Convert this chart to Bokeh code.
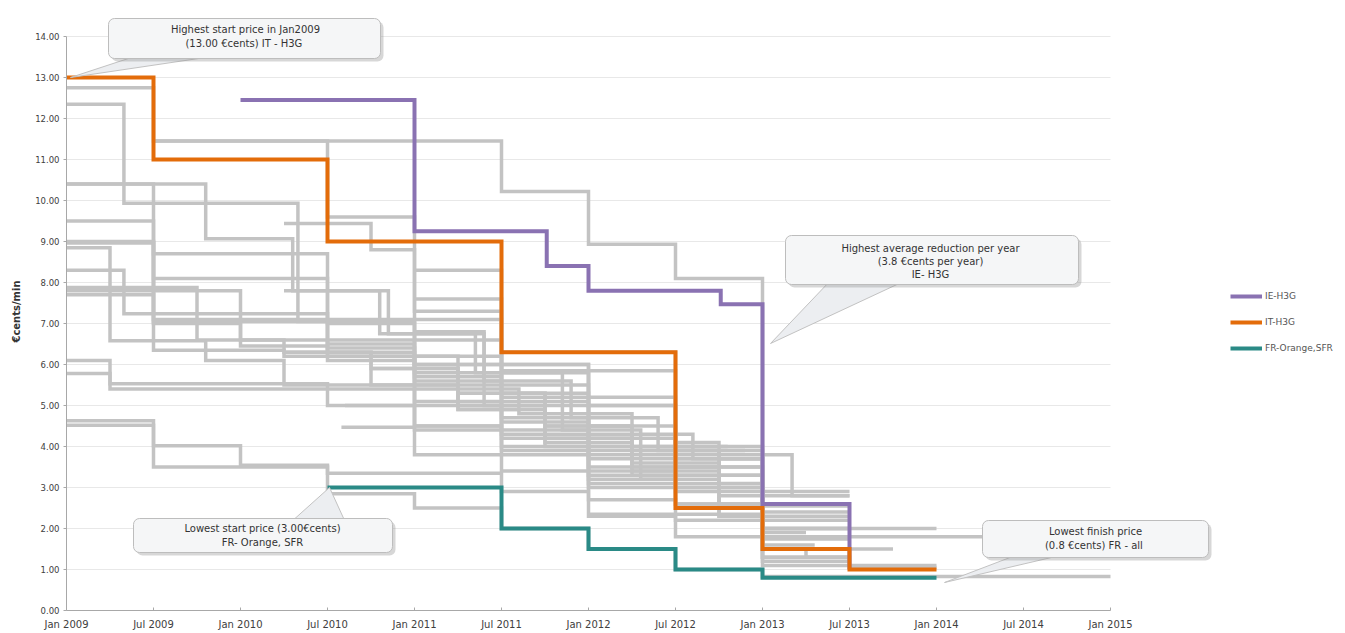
from bokeh.plotting import figure
from bokeh.models import (FixedTicker, NumeralTickFormatter, BoxAnnotation, Label,
                          Legend, LegendItem)
from bokeh.embed import file_html
from bokeh.resources import INLINE

# ---------------- data ----------------
x_ticks = [2009.0 + 0.5 * i for i in range(13)]
x_tick_labels = ["Jan 2009", "Jul 2009", "Jan 2010", "Jul 2010", "Jan 2011", "Jul 2011",
                 "Jan 2012", "Jul 2012", "Jan 2013", "Jul 2013", "Jan 2014", "Jul 2014",
                 "Jan 2015"]
y_ticks = list(range(0, 15))

ie_dates = [2010.0, 2011.0, 2011.76, 2012.0, 2012.76, 2013.0, 2013.5]
ie_values = [12.45, 9.25, 8.4, 7.8, 7.47, 2.6, 1.0]
ie_end = 2013.5

it_dates = [2009.0, 2009.5, 2010.5, 2011.5, 2012.5, 2013.0, 2013.5]
it_values = [13.0, 11.0, 9.0, 6.3, 2.5, 1.5, 1.0]
it_end = 2014.0

fr_dates = [2010.5, 2011.5, 2012.0, 2012.5, 2013.0]
fr_values = [3.0, 2.0, 1.5, 1.0, 0.8]
fr_end = 2014.0

grey_dates = [
    [2009.0, 2009.5, 2011.5, 2012.0, 2012.5, 2013.0],
    [2009.0, 2009.33, 2010.33, 2011.0, 2011.5, 2012.0, 2013.0],
    [2009.0, 2009.5, 2010.5, 2011.0, 2011.5, 2012.0, 2012.5, 2013.0],
    [2009.0, 2009.8, 2010.3, 2010.85, 2011.4, 2012.0, 2012.75, 2013.0],
    [2009.0, 2009.5, 2010.25, 2011.0, 2011.5, 2012.0, 2013.0],
    [2009.0, 2009.5, 2010.5, 2011.0, 2011.6, 2012.25, 2012.75, 2013.0],
    [2009.0, 2009.25, 2009.8, 2010.25, 2011.0, 2011.5, 2012.0],
    [2009.0, 2009.33, 2010.5, 2011.0, 2011.5, 2012.0, 2012.5, 2013.0],
    [2009.0, 2009.75, 2010.25, 2010.75, 2011.25, 2011.75, 2012.25],
    [2009.0, 2009.5, 2010.5, 2011.0, 2011.5, 2012.0, 2012.5, 2013.0],
    [2009.0, 2009.25, 2010.5, 2011.0, 2011.5, 2012.0, 2012.5, 2013.0],
    [2009.0, 2009.25, 2011.0, 2011.5, 2012.0],
    [2009.0, 2009.5, 2010.0, 2010.5, 2011.0, 2011.5, 2012.0, 2012.5, 2013.0],
    [2009.0, 2009.5, 2010.5, 2011.5, 2012.0, 2012.5, 2013.0],
    [2010.25, 2010.75, 2011.0, 2011.5, 2012.0, 2012.5, 2013.0],
    [2009.5, 2010.5, 2011.0, 2011.5, 2012.0, 2012.5, 2013.0],
    [2010.25, 2010.8, 2011.35, 2011.85, 2012.3, 2012.75, 2013.0],
    [2010.58, 2011.0, 2011.5, 2012.0, 2012.5, 2013.0],
    [2011.0, 2011.5, 2012.0, 2012.5, 2012.75],
    [2011.0, 2011.4, 2011.9, 2012.4],
    [2011.0, 2011.5, 2012.0, 2012.5, 2013.0],
    [2010.5, 2011.0, 2011.5, 2012.0, 2012.5, 2013.0],
    [2010.75, 2011.25, 2011.75, 2012.25, 2012.75],
    [2011.25, 2011.75, 2012.25, 2012.75, 2013.0],
    [2009.0, 2010.0, 2010.5, 2011.25, 2011.75, 2012.25, 2013.0],
    [2009.0, 2009.5, 2010.5, 2011.0, 2011.5, 2012.5, 2012.6],
    [2011.0, 2011.5, 2012.5, 2013.0],
    [2012.5, 2013.0, 2013.25],
    [2012.0, 2013.0, 2013.5],
    [2009.0, 2009.5, 2010.0, 2010.5, 2011.0, 2011.5, 2012.0, 2013.0],
    [2010.25, 2010.75, 2011.25, 2011.75, 2012.25],
    [2010.6, 2011.0, 2011.5, 2012.0, 2013.17],
]
grey_values = [
    [12.75, 11.45, 10.22, 8.93, 8.1, 2.8],
    [12.35, 9.93, 7.05, 5.6, 4.4, 3.3, 2.0],
    [10.4, 8.7, 7.0, 6.0, 5.3, 4.0, 2.6, 1.8],
    [10.4, 9.07, 7.8, 6.75, 5.0, 3.5, 2.3, 1.75],
    [9.5, 6.35, 6.2, 5.1, 4.3, 3.0, 1.3],
    [8.97, 7.1, 6.5, 5.4, 4.8, 3.6, 2.6, 1.6],
    [8.85, 6.58, 6.1, 5.5, 5.0, 4.0, 3.2],
    [8.3, 7.24, 6.4, 5.8, 4.6, 3.7, 2.9, 2.0],
    [7.88, 6.6, 6.3, 5.5, 4.9, 4.1, 3.3],
    [7.7, 7.05, 6.3, 5.7, 5.2, 4.3, 3.1, 2.4],
    [6.1, 5.53, 5.0, 4.4, 3.9, 3.1, 2.6, 1.8],
    [5.78, 5.4, 4.5, 3.8, 3.4],
    [4.63, 4.02, 3.54, 2.85, 2.5, 2.0, 1.5, 1.0, 0.83],
    [4.52, 3.5, 3.35, 2.9, 2.3, 1.8, 1.1],
    [9.44, 8.8, 7.1, 6.0, 5.0, 3.7, 2.9],
    [11.45, 9.6, 7.3, 6.0, 5.0, 4.0, 2.6],
    [7.8, 6.75, 5.8, 4.4, 3.2, 2.3, 1.5],
    [4.47, 3.8, 3.4, 2.7, 2.2, 1.75],
    [7.6, 5.8, 5.2, 4.1, 3.3],
    [6.8, 5.6, 4.7, 3.9],
    [6.2, 5.1, 4.5, 3.5, 2.3],
    [6.6, 6.0, 5.5, 4.2, 3.0, 2.0],
    [5.9, 5.0, 4.5, 3.9, 2.8],
    [5.3, 4.0, 3.4, 2.5, 1.9],
    [7.8, 6.45, 6.2, 4.9, 4.2, 3.5, 1.2],
    [8.97, 8.1, 7.1, 6.6, 5.85, 4.3, 3.7],
    [8.3, 6.3, 3.7, 2.55],
    [2.5, 1.5, 1.3],
    [2.35, 1.3, 1.05],
    [9.0, 7.0, 6.6, 6.1, 5.5, 4.7, 3.9, 2.2],
    [6.3, 5.9, 5.3, 4.5, 4.0],
    [5.0, 4.5, 4.2, 3.8, 2.8],
]
grey_ends = [2013.5, 2014.0, 2015.0, 2013.5, 2013.5, 2013.3, 2012.5, 2013.5,
             2012.75, 2013.5, 2013.5, 2012.5, 2015.0, 2014.0, 2013.5, 2013.5,
             2013.75, 2013.5, 2013.0, 2012.9, 2013.5, 2013.5, 2013.0, 2013.25,
             2013.5, 2013.0, 2013.5, 2013.5, 2014.0, 2013.5, 2012.8, 2013.5]

callout_texts = [
    "Highest start price in Jan2009\n(13.00 €cents)  IT - H3G",
    "Highest average reduction per year\n(3.8 €cents per year)\nIE- H3G",
    "Lowest start price (3.00€cents)\nFR- Orange, SFR",
    "Lowest finish price\n(0.8 €cents)  FR - all",
]

# ---------------- helpers ----------------
def expand(ts, vs, end):
    xs, ys = [], []
    for i, (t, v) in enumerate(zip(ts, vs)):
        nxt = ts[i + 1] if i + 1 < len(ts) else end
        xs += [t, nxt]
        ys += [v, v]
    return xs, ys

# page-pixel -> data conversion for annotation layout
LEFT, TOP, BOTTOM_AXIS, W, H = 66, 12, 22, 1335, 632
PX_X0, PX_PER_YEAR = 66.0, 174.0
PX_Y0, PX_PER_UNIT = 610.0, 41.0
def dx(px):
    return 2009.0 + (px - PX_X0) / PX_PER_YEAR
def dy(py):
    return (PX_Y0 - py) / PX_PER_UNIT

FONT = "DejaVu Sans"

p = figure(width=W, height=H, x_range=(2009.0, 2009.0 + (W - LEFT) / PX_PER_YEAR),
           y_range=(0, 14.0 + (36 - TOP) / PX_PER_UNIT), output_backend="svg",
           toolbar_location=None, min_border_left=LEFT, min_border_right=0,
           min_border_top=TOP, min_border_bottom=BOTTOM_AXIS)
p.outline_line_color = None
p.xgrid.visible = False
p.ygrid.visible = False
p.background_fill_color = "white"

# gridlines limited to Jan 2009 - Jan 2015
gy = y_ticks[1:]
p.segment(x0=[x_ticks[0]] * len(gy), y0=gy, x1=[x_ticks[-1]] * len(gy), y1=gy,
          line_color="#e8e8e8", line_width=1)

# grey series
gxs, gys = [], []
for ts, vs, e in zip(grey_dates, grey_values, grey_ends):
    xs, ys = expand(ts, vs, e)
    gxs.append(xs)
    gys.append(ys)
p.multi_line(gxs, gys, line_color="#c3c3c3", line_width=3.5, line_join="miter")

xs, ys = expand(ie_dates, ie_values, ie_end)
r_ie = p.line(xs, ys, line_color="#8a72b2", line_width=4, line_join="miter")
xs, ys = expand(it_dates, it_values, it_end)
r_it = p.line(xs, ys, line_color="#e36c0a", line_width=4, line_join="miter")
xs, ys = expand(fr_dates, fr_values, fr_end)
r_fr = p.line(xs, ys, line_color="#2a8a86", line_width=4, line_join="miter")

# axes
p.xaxis.ticker = FixedTicker(ticks=x_ticks)
p.xaxis.major_label_overrides = {t: lab for t, lab in zip(x_ticks, x_tick_labels)}
p.xaxis.bounds = (x_ticks[0], x_ticks[-1])
p.xaxis.minor_tick_line_color = None
p.xaxis.major_tick_in = 3
p.xaxis.major_tick_out = 0
p.xaxis.major_label_standoff = 8
p.xaxis.major_label_text_font_size = "10px"
p.yaxis.ticker = FixedTicker(ticks=y_ticks)
p.yaxis.formatter = NumeralTickFormatter(format="0.00")
p.yaxis.bounds = (0, 14)
p.yaxis.minor_tick_line_color = None
p.yaxis.major_tick_in = 0
p.yaxis.major_tick_out = 3
p.yaxis.major_label_standoff = 4
p.yaxis.major_label_text_font_size = "8.5px"
p.yaxis.axis_label = "€cents/min"
p.yaxis.axis_label_text_font_style = "bold"
p.yaxis.axis_label_text_font_size = "10px"
p.yaxis.axis_label_text_font = FONT
p.yaxis.axis_label_text_color = "#333333"
p.yaxis.axis_label_standoff = 10
for ax in (p.xaxis, p.yaxis):
    ax.axis_line_color = "#a8a8a8"
    ax.major_tick_line_color = "#a8a8a8"
    ax.major_label_text_font = FONT
    ax.major_label_text_color = "#404040"

# callouts: (box x0, x1, y0, y1), tail base (bx0, bx1, by), tip (tx, ty), text centre
callouts = [
    ((108, 380, 18, 58), (140, 225, 54), (70, 77), (245, 36)),
    ((785, 1078, 235, 284), (830, 905, 280), (770, 343), (930, 261)),
    ((133, 392, 518, 552), (290, 345, 522), (329, 487), (262, 535)),
    ((982, 1208, 520, 557), (1020, 1068, 553), (944, 582), (1095, 538)),
]
for (box, base, tip, ctr), txt in zip(callouts, callout_texts):
    x0, x1, y0, y1 = box
    p.patch([dx(base[0]), dx(base[1]), dx(tip[0])], [dy(base[2]), dy(base[2]), dy(tip[1])],
            fill_color="#eceef1", line_color="#c2c2c2", line_width=1)
    p.add_layout(BoxAnnotation(left=dx(x0 + 3), right=dx(x1 + 3), top=dy(y0 + 3), bottom=dy(y1 + 3),
                               fill_color="#8c8c8c", fill_alpha=0.35, line_color=None,
                               border_radius=6))
    p.add_layout(BoxAnnotation(left=dx(x0), right=dx(x1), top=dy(y0), bottom=dy(y1),
                               fill_color="#f5f6f7", fill_alpha=1.0, line_color="#bdbdbd",
                               line_width=1, line_alpha=1.0, border_radius=6))
    p.add_layout(Label(x=dx(ctr[0]), y=dy(ctr[1]), text=txt, text_align="center",
                       text_baseline="middle", text_font_size="10px", text_font=FONT,
                       text_color="#333333", text_line_height=1.2))

legend = Legend(items=[LegendItem(label="IE-H3G", renderers=[r_ie]),
                       LegendItem(label="IT-H3G", renderers=[r_it]),
                       LegendItem(label="FR-Orange,SFR", renderers=[r_fr])],
                location=(1230 - LEFT, 255), border_line_color=None, background_fill_alpha=0,
                glyph_width=32, glyph_height=14, label_height=14, spacing=12,
                padding=0, margin=0, label_text_font_size="9px", label_text_font=FONT,
                label_text_color="#555555", label_standoff=3)
p.add_layout(legend)

open("out.html", "w").write(file_html(p, INLINE))
